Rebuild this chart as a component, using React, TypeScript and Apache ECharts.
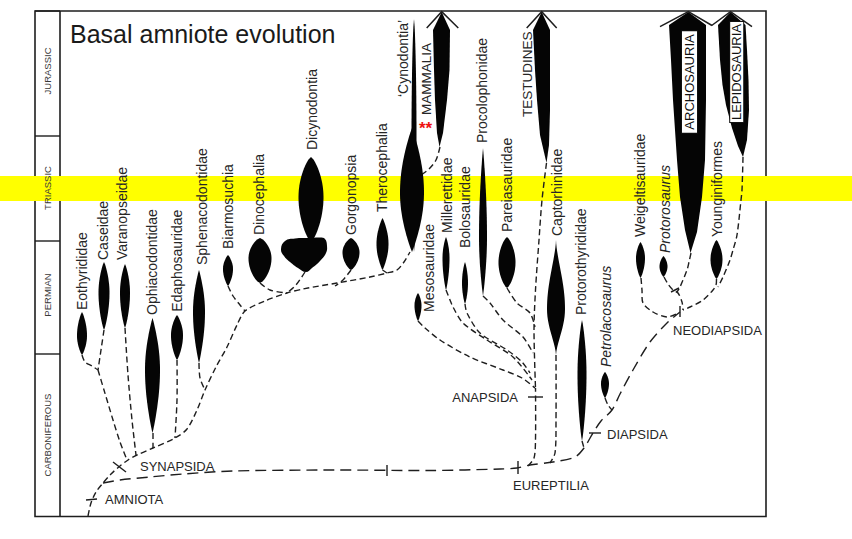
import React, { useEffect, useRef } from "react";
import * as echarts from "echarts";

const FONT = '"Liberation Sans", Arial, Helvetica, sans-serif';
const INK = "#1e1e1e";
const TEXT = "#262626";

// Figure scale: horizontal column position and vertical stratigraphic level (top of frame = 11, base = 516.5)
const X_MIN = 35;
const X_MAX = 766;
const Y_MIN = 11;
const Y_MAX = 516.5;

// Geological periods (left column)
const periodNames = ["JURASSIC", "TRIASSIC", "PERMIAN", "CARBONIFEROUS"];
const periodTop = [11, 136, 241, 354];
const periodBase = [136, 241, 354, 516.5];
const periodLabelMid = [71, 188, 295, 435];
const periodColumnEdge = 60;

// Highlighted stratigraphic band
const bandTop = 176;
const bandBase = 201;

// Title
const titleText = "Basal amniote evolution";

// Spindles (taxon ranges with relative diversity)
const spindleTaxa = [
  "Eothyrididae", "Caseidae", "Varanopseidae", "Ophiacodontidae", "Edaphosauridae",
  "Sphenacodontidae", "Biarmosuchia", "Dinocephalia", "Dicynodontia", "Gorgonopsia",
  "Therocephalia", "Cynodontia (tail)", "Cynodontia", "Mesosauridae", "Millerettidae",
  "Bolosauridae", "Procolophonidae", "Pareiasauridae", "Captorhinidae", "Protorothyrididae",
  "Petrolacosaurus", "Weigeltisauridae", "Protorosaurus", "Younginiformes",
];
const spindleX = [82, 104, 125, 152.5, 177, 199, 228, 260, 311, 351, 382.5, 414, 412, 418, 446, 465, 483, 507, 556, 582, 605, 640.5, 663.5, 716.5];
const spindleTop = [312, 262, 264, 318, 315, 270, 255, 238, 157, 238, 218, 19, 128, 293, 237, 262, 148, 237, 240, 320, 372, 242, 256, 240];
const spindleBase = [355, 330, 328, 433, 360, 363, 286, 283, 242, 270, 270, 252, 252, 321, 290, 304, 296, 288, 355, 441, 398, 278, 277, 279];
const spindleWidth = [10, 11, 10, 15, 12, 12, 10, 23, 25, 17, 12, 5, 24, 7, 7, 6, 8, 17, 18, 9, 8, 9, 8, 12];
const spindlePeak = [0.55, 0.45, 0.45, 0.45, 0.45, 0.45, 0.45, 0.45, 0.47, 0.45, 0.5, 0.5, 0.52, 0.45, 0.4, 0.5, 0.6, 0.5, 0.6, 0.45, 0.45, 0.45, 0.5, 0.5];
const spindleShape = [0.8, 0.8, 0.8, 0.9, 0.8, 0.9, 0.8, 0.65, 0.7, 0.7, 0.85, 0.6, 0.9, 0.8, 0.8, 0.8, 0.9, 0.7, 1.5, 0.8, 0.8, 0.8, 0.8, 0.8];

// Dicynodontia lower lobe outline
const dicynodontLobe = [
  [285, 241], [295, 238.5], [310, 238], [320, 237.5], [325, 239], [327, 246], [326, 253],
  [320, 261], [312, 268], [306, 272], [298, 268], [290, 262], [284, 256], [281, 249],
];

// Surviving lineages (arrows running off the top)
const arrowNames = ["MAMMALIA", "TESTUDINES", "ARCHOSAURIA", "LEPIDOSAURIA"];
const arrowBodies = [
  [[441.7, 12], [433, 30], [434, 70], [435, 100], [437, 133], [439.5, 147], [443, 133], [447, 100], [449.5, 70], [450, 30]],
  [[541.7, 12], [533, 30], [535, 70], [537, 100], [540, 135], [546.5, 163], [549, 145], [550, 110], [550, 70], [550, 30]],
  [[688.3, 12], [669, 25], [671, 60], [673, 100], [677, 160], [680, 197], [685, 230], [690.5, 253], [697, 232], [702, 197], [705, 160], [706, 100], [706, 60], [706, 25]],
  [[730.5, 12], [718, 25], [720, 60], [722.5, 85], [726, 105], [732, 128], [738, 146], [743, 157], [747, 140], [749, 110], [748.5, 80], [747, 50], [745.5, 25]],
];
const arrowHeads = [
  [[426.7, 28], [441.7, 11.7], [458.3, 28]],
  [[526.7, 28], [541.7, 11.7], [556.7, 28]],
  [[660, 26.7], [688.3, 11.5], [712, 25.5]],
  [[711.7, 25.5], [730.5, 11.7], [752, 26.7]],
];

// Phylogenetic branches (dashed)
const branchLines = [
  [[88, 516], [91, 503], [96, 492], [103, 483], [111, 474], [120, 466], [128, 460], [137, 455], [153, 448], [175, 438], [187, 429], [197, 410], [205, 390], [216, 367], [227, 347], [237, 325], [245, 311], [265, 301], [287, 293], [303, 289], [337, 283], [370, 277], [387, 273], [397, 270], [404, 262], [410, 252]],
  [[82, 355], [85, 362], [92, 366], [98, 370]],
  [[104, 330], [101, 350], [98, 370]],
  [[98, 370], [104, 390], [113, 420], [120, 442], [127, 460]],
  [[125, 328], [128, 375], [132, 420], [136, 455]],
  [[153, 433], [153, 448]],
  [[177, 360], [177, 400], [175, 438]],
  [[199, 363], [200, 378], [205, 390]],
  [[228, 286], [233, 296], [240, 305], [245, 311]],
  [[260, 283], [270, 290], [287, 293]],
  [[305, 272], [296, 285], [287, 293]],
  [[351, 270], [343, 280], [335, 286]],
  [[382.5, 270], [387, 273]],
  [[440, 147], [436, 160], [429, 169], [421, 175]],
  [[103, 483], [120, 480], [150, 477], [183, 474], [233, 471], [333, 470], [430, 470.5], [500, 469], [517, 468], [530, 465], [553, 462], [575, 457], [584, 448], [593, 433], [601, 421], [612, 410], [620, 394], [633, 370], [650, 342], [667, 323], [680, 312]],
  [[528, 466], [534, 458], [535.5, 440], [535.5, 388]],
  [[556, 355], [556, 420], [555, 453], [550, 463]],
  [[546.5, 163], [542, 200], [539, 240], [535.5, 290], [534, 330], [535.5, 388]],
  [[418, 321], [425, 328], [440, 340], [470, 357], [503, 370], [522, 378], [535, 388]],
  [[446, 290], [450, 300], [453, 307], [463, 323], [487, 340], [513, 357], [532, 380]],
  [[465, 304], [467, 313], [480, 333], [507, 350], [522, 362], [530, 373]],
  [[483, 296], [490, 303], [503, 320], [523, 337], [533, 353]],
  [[507, 288], [517, 303], [530, 313], [535, 327]],
  [[582, 441], [584, 448]],
  [[605, 398], [608, 405], [612, 410]],
  [[641, 278], [642, 290], [643, 303], [653, 312], [667, 317], [676, 314]],
  [[664, 277], [668, 284], [673, 290], [678, 293], [682, 302], [683, 310]],
  [[691, 253], [689, 262], [687, 270], [680, 287], [677, 292]],
  [[743, 157], [742, 190], [741, 200], [737, 235], [733, 250], [730, 260], [723, 277], [718, 287]],
  [[716.5, 279], [716, 285], [713, 290], [703, 300], [690, 307], [683, 310]],
];
const branchDash = [
  "short", "short", "short", "short", "short", "short", "short", "short", "short", "short",
  "short", "short", "short", "short", "long", "short", "short", "short", "short", "short",
  "short", "short", "short", "short", "short", "short", "short", "short", "short", "short",
];

// Node ticks (solid)
const nodeTicks = [
  [[86, 500], [97, 499]],
  [[113, 462], [126, 472]],
  [[387, 465], [387, 476]],
  [[518, 461], [518, 474]],
  [[528, 397], [543, 397]],
  [[589, 433], [601, 433]],
  [[680, 306], [680, 317]],
  [[671, 292], [679, 288]],
];

// Clade names (horizontal)
const cladeNames = ["AMNIOTA", "SYNAPSIDA", "EUREPTILIA", "ANAPSIDA", "DIAPSIDA", "NEODIAPSIDA"];
const cladeX = [105, 140, 513, 518, 607, 673];
const cladeY = [499, 466, 485, 397, 434, 330];
const cladeAlign = ["left", "left", "left", "right", "left", "left"];

// Taxon names (vertical, reading upwards from base)
const taxonNames = [
  "Eothyrididae", "Caseidae", "Varanopseidae", "Ophiacodontidae", "Edaphosauridae",
  "Sphenacodontidae", "Biarmosuchia", "Dinocephalia", "Dicynodontia", "Gorgonopsia",
  "Therocephalia", "\u2018Cynodontia\u2019", "Mesosauridae", "Millerettidae", "Bolosauridae",
  "Procolophonidae", "Pareiasauridae", "Captorhinidae", "Protorothyrididae", "Petrolacosaurus",
  "Weigeltisauridae", "Protorosaurus", "Younginiformes", "MAMMALIA", "TESTUDINES",
];
const taxonX = [81.7, 103.3, 121.7, 151.7, 177.3, 201.7, 228.3, 259, 311.7, 350.7, 381.7, 403, 429, 446.7, 465, 481.7, 506.7, 556.7, 580.7, 606, 640, 665, 716.7, 426.7, 527.3];
const taxonBase = [310, 260, 260, 315, 311.7, 265, 249, 235, 150, 235, 212, 97, 312, 233, 248, 143, 232, 236, 315, 367, 237, 253, 237, 115, 117];
const taxonItalic = [0, 0, 0, 0, 0, 0, 0, 0, 0, 0, 0, 0, 0, 0, 0, 0, 0, 0, 0, 1, 0, 1, 0, 0, 0];

// Boxed crown-group names
const boxedNames = ["ARCHOSAURIA", "LEPIDOSAURIA"];
const boxedX = [689.5, 736.7];
const boxedMid = [82, 72];

// Annotation
const starText = "**";
const starAt = [425.5, 128];

function spindleOutline(cx: number, top: number, base: number, half: number, peak: number, shape: number) {
  const n = 30;
  const right: number[][] = [];
  const left: number[][] = [];
  for (let k = 0; k <= n; k++) {
    const t = k / n;
    const g = t <= peak ? (0.5 * t) / peak : 0.5 + (0.5 * (t - peak)) / (1 - peak);
    const f = Math.pow(Math.max(0, Math.sin(Math.PI * g)), shape);
    const y = top + (base - top) * t;
    right.push([cx + half * f, y]);
    left.unshift([cx - half * f, y]);
  }
  return right.concat(left);
}

export default function App() {
  const ref = useRef<HTMLDivElement>(null);

  useEffect(() => {
    if (!ref.current) return;
    const chart = echarts.init(ref.current, null, { renderer: "svg" });

    const option: any = {
      animation: false,
      backgroundColor: "#ffffff",
      title: {
        text: titleText,
        left: 65,
        top: 16,
        textStyle: { fontFamily: FONT, fontSize: 25, fontWeight: "normal", color: "#1a1a1a" },
      },
      grid: {
        left: X_MIN,
        top: Y_MIN,
        right: 852 - X_MAX,
        bottom: 539 - Y_MAX,
        show: true,
        borderColor: INK,
        borderWidth: 1.6,
        backgroundColor: "transparent",
      },
      xAxis: { type: "value", min: X_MIN, max: X_MAX, show: false },
      yAxis: { type: "value", min: Y_MIN, max: Y_MAX, inverse: true, show: false },
      series: [
        // period column frame
        {
          type: "custom",
          z: 0,
          silent: true,
          data: periodNames.map((_, i) => [X_MIN, periodTop[i], periodBase[i]]),
          renderItem: (params: any, api: any) => {
            const a = api.coord([X_MIN, api.value(1)]);
            const b = api.coord([periodColumnEdge, api.value(1)]);
            const c = api.coord([periodColumnEdge, api.value(2)]);
            return {
              type: "group",
              children: [
                { type: "line", shape: { x1: a[0], y1: a[1], x2: b[0], y2: b[1] }, style: { stroke: INK, lineWidth: 1.4 } },
                { type: "line", shape: { x1: b[0], y1: b[1], x2: c[0], y2: c[1] }, style: { stroke: INK, lineWidth: 1.6 } },
              ],
            };
          },
        },
        // highlight band
        {
          type: "custom",
          z: 1,
          silent: true,
          data: [[0, bandTop, 852, bandBase]],
          renderItem: (params: any, api: any) => {
            const a = api.coord([api.value(0), api.value(1)]);
            const b = api.coord([api.value(2), api.value(3)]);
            return { type: "rect", shape: { x: a[0], y: a[1], width: b[0] - a[0], height: b[1] - a[1] }, style: { fill: "#ffff00" } };
          },
        },
        // period labels
        {
          type: "custom",
          z: 3,
          silent: true,
          data: periodNames.map((_, i) => [(X_MIN + periodColumnEdge) / 2, periodLabelMid[i]]),
          renderItem: (params: any, api: any) => {
            const p = api.coord([api.value(0), api.value(1)]);
            return {
              type: "text",
              x: p[0],
              y: p[1],
              rotation: Math.PI / 2,
              style: { text: periodNames[params.dataIndex], fill: "#3a3a3a", font: `9.5px ${FONT}`, align: "center", verticalAlign: "middle" },
            };
          },
        },
        // dashed branches
        {
          type: "custom",
          z: 3,
          silent: true,
          data: branchLines.map((pts, i) => [pts[0][0], pts[0][1], i]),
          renderItem: (params: any, api: any) => {
            const i = api.value(2);
            const pts = branchLines[i].map((p) => api.coord(p));
            return {
              type: "polyline",
              shape: { points: pts, smooth: 0.3 },
              style: { stroke: INK, lineWidth: 1.4, fill: "none", lineDash: branchDash[i] === "long" ? [11, 6] : [6, 3.5] },
            };
          },
        },
        // node ticks
        {
          type: "custom",
          z: 3,
          silent: true,
          data: nodeTicks.map((s) => [s[0][0], s[0][1], s[1][0], s[1][1]]),
          renderItem: (params: any, api: any) => {
            const a = api.coord([api.value(0), api.value(1)]);
            const b = api.coord([api.value(2), api.value(3)]);
            return { type: "line", shape: { x1: a[0], y1: a[1], x2: b[0], y2: b[1] }, style: { stroke: INK, lineWidth: 1.4 } };
          },
        },
        // spindles
        {
          type: "custom",
          z: 4,
          silent: true,
          data: spindleX.map((x, i) => [x, spindleTop[i], spindleBase[i], spindleWidth[i], spindlePeak[i], spindleShape[i]]),
          renderItem: (params: any, api: any) => {
            const x = api.value(0);
            const top = api.coord([x, api.value(1)]);
            const base = api.coord([x, api.value(2)]);
            const half = api.size([api.value(3), 0])[0] / 2;
            return {
              type: "polygon",
              shape: { points: spindleOutline(top[0], top[1], base[1], half, api.value(4), api.value(5)) },
              style: { fill: "#050505" },
            };
          },
        },
        // dicynodont lobe
        {
          type: "custom",
          z: 4,
          silent: true,
          data: [[dicynodontLobe[0][0], dicynodontLobe[0][1]]],
          renderItem: (params: any, api: any) => ({
            type: "polygon",
            shape: { points: dicynodontLobe.map((p) => api.coord(p)), smooth: 0.45 },
            style: { fill: "#050505" },
          }),
        },
        // arrow bodies
        {
          type: "custom",
          z: 4,
          silent: true,
          data: arrowBodies.map((b, i) => [b[0][0], b[0][1], i]),
          renderItem: (params: any, api: any) => {
            const i = api.value(2);
            return {
              type: "polygon",
              shape: { points: arrowBodies[i].map((p) => api.coord(p)) },
              style: { fill: "#050505" },
            };
          },
        },
        // arrow heads
        {
          type: "custom",
          z: 4,
          silent: true,
          data: arrowHeads.map((h, i) => [h[1][0], h[1][1], i]),
          renderItem: (params: any, api: any) => {
            const i = api.value(2);
            return {
              type: "polyline",
              shape: { points: arrowHeads[i].map((p) => api.coord(p)) },
              style: { stroke: INK, lineWidth: 1.5, fill: "none" },
            };
          },
        },
        // taxon labels
        {
          type: "custom",
          z: 5,
          silent: true,
          data: taxonX.map((x, i) => [x, taxonBase[i]]),
          renderItem: (params: any, api: any) => {
            const i = params.dataIndex;
            const p = api.coord([api.value(0), api.value(1)]);
            const name = taxonNames[i];
            const upper = name === name.toUpperCase();
            const size = upper ? 13.5 : 14;
            return {
              type: "text",
              x: p[0],
              y: p[1],
              rotation: Math.PI / 2,
              style: {
                text: name,
                fill: TEXT,
                font: `${taxonItalic[i] ? "italic " : ""}${size}px ${FONT}`,
                align: "left",
                verticalAlign: "middle",
              },
            };
          },
        },
        // boxed crown names
        {
          type: "custom",
          z: 6,
          silent: true,
          data: boxedX.map((x, i) => [x, boxedMid[i]]),
          renderItem: (params: any, api: any) => {
            const i = params.dataIndex;
            const p = api.coord([api.value(0), api.value(1)]);
            return {
              type: "text",
              x: p[0],
              y: p[1],
              rotation: Math.PI / 2,
              style: {
                text: boxedNames[i],
                fill: "#111",
                font: `13px ${FONT}`,
                align: "center",
                verticalAlign: "middle",
                backgroundColor: "#ffffff",
                borderColor: "#111",
                borderWidth: 1,
                padding: i === 0 ? [1, 3] : [0, 2],
              },
            };
          },
        },
        // clade labels
        {
          type: "custom",
          z: 5,
          silent: true,
          data: cladeX.map((x, i) => [x, cladeY[i]]),
          renderItem: (params: any, api: any) => {
            const i = params.dataIndex;
            const p = api.coord([api.value(0), api.value(1)]);
            return {
              type: "text",
              x: p[0],
              y: p[1],
              style: { text: cladeNames[i], fill: TEXT, font: `13px ${FONT}`, align: cladeAlign[i], verticalAlign: "middle" },
            };
          },
        },
        // red asterisks
        {
          type: "custom",
          z: 6,
          silent: true,
          data: [starAt],
          renderItem: (params: any, api: any) => {
            const p = api.coord([api.value(0), api.value(1)]);
            return {
              type: "text",
              x: p[0],
              y: p[1],
              style: { text: starText, fill: "#ee1111", font: `bold 17px ${FONT}`, align: "center", verticalAlign: "middle" },
            };
          },
        },
      ],
    };

    chart.setOption(option);
    return () => chart.dispose();
  }, []);

  return (
    <div
      ref={ref}
      style={{ position: "absolute", left: 0, top: 0, width: 852, height: 539, background: "#fff" }}
    />
  );
}
